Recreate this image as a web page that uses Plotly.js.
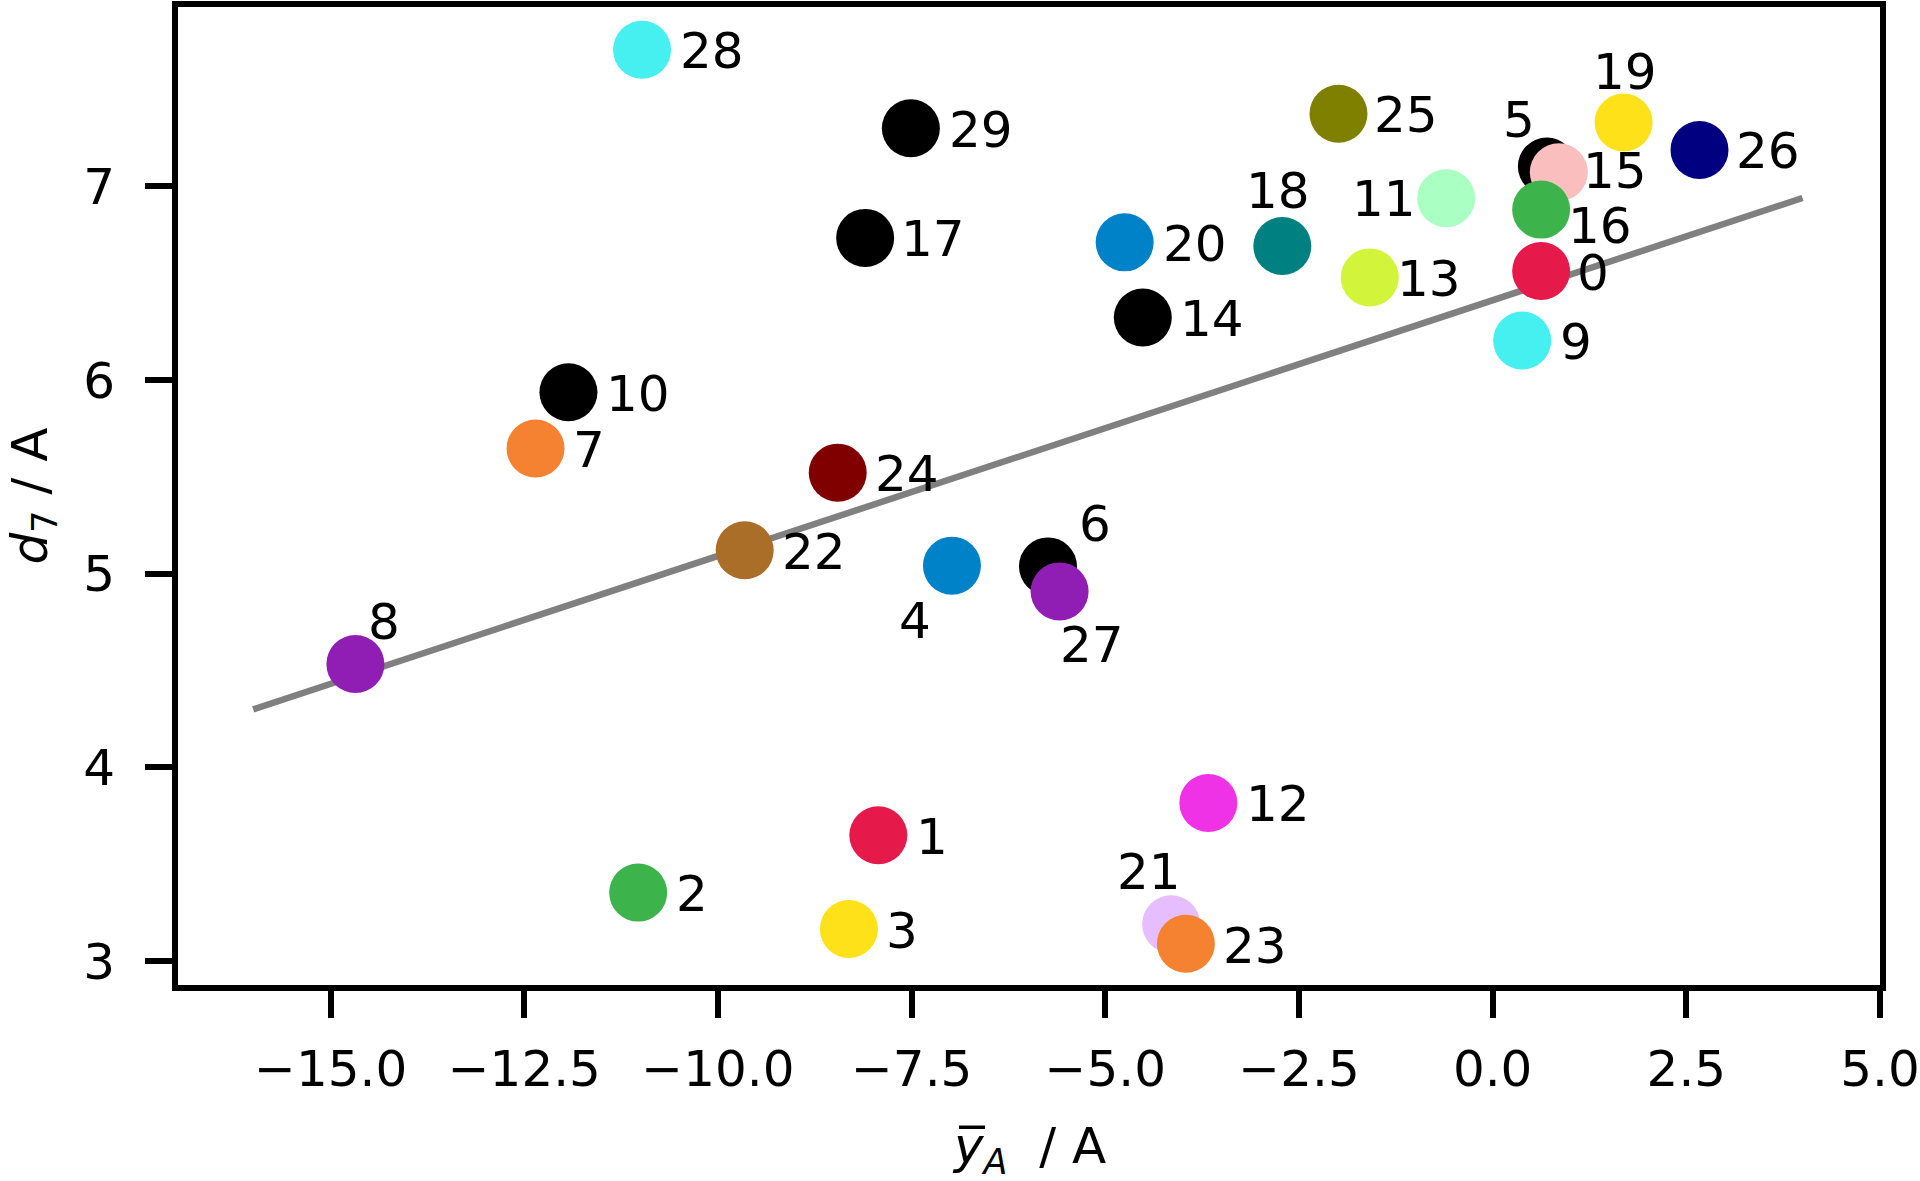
<!DOCTYPE html>
<html>
<head>
<meta charset="utf-8">
<script src="https://cdn.plot.ly/plotly-3.0.1.min.js"></script>
<style>html,body{margin:0;padding:0;background:#fff;}#chart{width:1920px;height:1181px;}</style>
</head>
<body>
<div id="chart"></div>
<script>
// ---- data ----
const pointLabels = ["0","1","2","3","4","5","6","7","8","9","10","11","12","13","14","15","16","17","18","19","20","21","22","23","24","25","26","27","28","29"];
const yBarA = [0.626,-7.93,-11.03,-8.31,-6.98,0.70,-5.74,-12.355,-14.68,0.381,-11.93,-0.60,-3.67,-1.586,-4.516,0.854,0.626,-8.10,-2.715,1.69,-4.75,-4.15,-9.655,-3.96,-8.454,-1.99,2.67,-5.59,-10.98,-7.51];
const d7 = [6.563,3.65,3.354,3.166,5.042,7.103,5.038,5.647,4.534,6.204,5.937,6.939,3.817,6.53,6.323,7.073,6.88,6.734,6.692,7.33,6.711,3.191,5.121,3.09,5.522,7.375,7.188,4.909,7.705,7.30];
const pointColors = ["#e6194b","#e6194b","#3cb44b","#ffe119","#0082c8","#000000","#000000","#f58231","#911eb4","#46f0f0","#000000","#aaffc3","#f032e6","#d2f53c","#000000","#fabebe","#3cb44b","#000000","#008080","#ffe119","#0082c8","#e6beff","#aa6e28","#f58231","#800000","#808000","#000080","#911eb4","#46f0f0","#000000"];
const fitX = [-16, 4];
const fitY = [4.30, 6.94];
const xTickVals = [-15, -12.5, -10, -7.5, -5, -2.5, 0, 2.5, 5];
const yTickVals = [3, 4, 5, 6, 7];
const xTitle = "<i>y\u0305</i><sub><i>A</i></sub>  / A";
const yTitle = "<i>d</i><sub>7</sub> / A";

// ---- label placement: anchor, dx px, dy px (screen-down) ----
const labelPlace = [
  ["l",35.5,1.5],["l",37.5,1.5],["l",37.5,1.5],["l",37.5,1.5],["c",-37,55],
  ["c",-28,-46],["c",47,-42],["l",37.5,1.5],["c",29,-42],["l",38,1.5],
  ["l",37.5,1.5],["r",-30,1],["l",38,1.5],["l",27.5,2],["l",37.5,1.5],
  ["l",24,-1],["l",26.5,16],["l",36,1.5],["c",-4,-55],["c",1,-50],
  ["l",38,1.5],["c",-22,-52],["l",37.5,1.5],["l",37,2.5],["l",37.5,1.5],
  ["l",36,1.5],["l",36,1.5],["c",32,54],["l",37.5,1.5],["l",38,1.5]
];

const FONT = "DejaVu Sans";

const traces = [
  {x: fitX, y: fitY, mode: "lines", type: "scatter", line: {color: "#808080", width: 6.5}, hoverinfo: "skip", showlegend: false},
  {x: yBarA, y: d7, mode: "markers", type: "scatter", marker: {size: 58, color: pointColors, line: {width: 0}}, text: pointLabels, showlegend: false}
];

const anchorMap = {l: "left", c: "center", r: "right"};
const annotations = pointLabels.map((t, i) => ({
  x: yBarA[i], y: d7[i], xref: "x", yref: "y",
  text: t, showarrow: false,
  xanchor: anchorMap[labelPlace[i][0]], yanchor: "middle",
  xshift: labelPlace[i][1], yshift: -labelPlace[i][2],
  borderpad: 0, borderwidth: 0,
  font: {family: FONT, size: 50, color: "#000"}
}));
// axis titles
annotations.push({
  xref: "paper", yref: "paper", x: 0.5, y: 0, xanchor: "center", yanchor: "top",
  yshift: -132, text: xTitle, showarrow: false, borderpad: 0, borderwidth: 0,
  font: {family: FONT, size: 50, color: "#000"}
});
annotations.push({
  xref: "paper", yref: "paper", x: 0, y: 0.5, xanchor: "left", yanchor: "middle",
  xshift: -178, textangle: -90, text: yTitle, showarrow: false, borderpad: 0, borderwidth: 0,
  font: {family: FONT, size: 50, color: "#000"}
});

const axisCommon = {
  showline: true, linecolor: "#000", linewidth: 6, mirror: true,
  ticks: "outside", ticklen: 27, tickwidth: 6, tickcolor: "#000",
  showgrid: false, zeroline: false,
  tickfont: {family: FONT, size: 50, color: "#000"}
};

const layout = {
  width: 1920, height: 1181,
  margin: {l: 178, r: 40, t: 7, b: 196, pad: 0},
  paper_bgcolor: "#fff", plot_bgcolor: "#fff",
  showlegend: false,
  xaxis: Object.assign({}, axisCommon, {
    range: [-16.97, 5.0], tickmode: "array", tickvals: xTickVals, tickformat: ".1f",
    ticklabelstandoff: 8
  }),
  yaxis: Object.assign({}, axisCommon, {
    range: [2.877, 7.926], tickmode: "array", tickvals: yTickVals, tickformat: "d",
    ticklabelstandoff: 20
  }),
  annotations: annotations
};

Plotly.newPlot("chart", traces, layout, {displayModeBar: false, staticPlot: true});
</script>
</body>
</html>
